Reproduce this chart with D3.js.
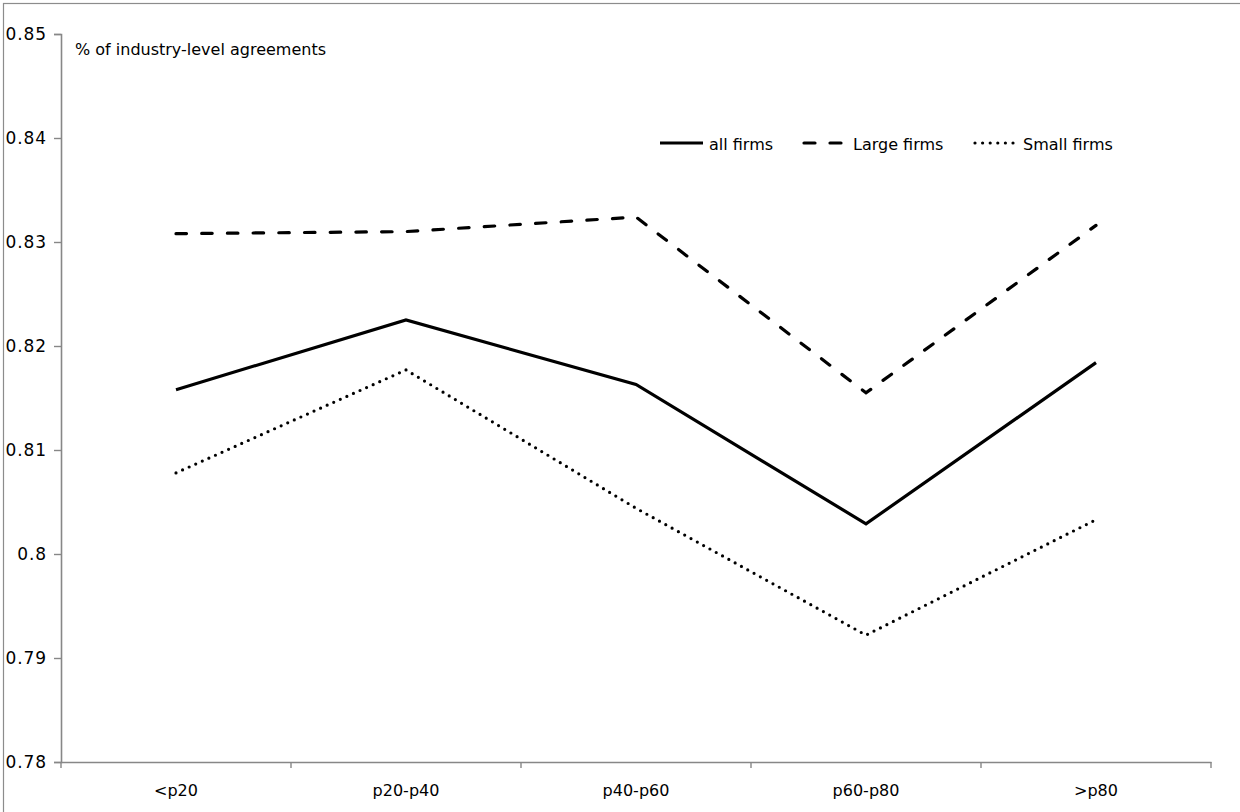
<!DOCTYPE html>
<html>
<head>
<meta charset="utf-8">
<script src="https://cdn.jsdelivr.net/npm/d3@7"></script>
<style>
  html, body { margin: 0; padding: 0; background: #fff; }
  svg { display: block; }
  text { font-family: "DejaVu Sans", sans-serif; fill: #000; }
</style>
</head>
<body>
<svg id="chart" width="1240" height="812"></svg>
<script>
const categories = ["<p20", "p20-p40", "p40-p60", "p60-p80", ">p80"];
const allFirms   = [0.8158, 0.8225, 0.8163, 0.8029, 0.8184];
const largeFirms = [0.8308, 0.8310, 0.8324, 0.8155, 0.8316];
const smallFirms = [0.8078, 0.8177, 0.8044, 0.7922, 0.8033];
const yTicks = [0.78, 0.79, 0.8, 0.81, 0.82, 0.83, 0.84, 0.85];
const yTitle = "% of industry-level agreements";
const seriesNames = ["all firms", "Large firms", "Small firms"];

const svg = d3.select("#chart");

// outer frame (top & left edges visible)
svg.append("rect")
  .attr("x", 3.5).attr("y", 3.5)
  .attr("width", 1300).attr("height", 900)
  .attr("fill", "none").attr("stroke", "#8c8c8c").attr("stroke-width", 1.2);

const x = d3.scaleBand().domain(categories).range([61, 1211]).padding(0);
const y = d3.scaleLinear().domain([0.78, 0.85]).range([762, 34]);

const axisColor = "#878787";

// y axis
const gy = svg.append("g").attr("transform", "translate(61,0)")
  .call(d3.axisLeft(y).tickValues(yTicks).tickSize(7).tickPadding(7)
        .tickFormat(d => d3.format("")(+d.toFixed(2))));
gy.select(".domain").attr("stroke", axisColor).attr("stroke-width", 1.6);
gy.selectAll(".tick line").attr("stroke", axisColor).attr("stroke-width", 1.4);
gy.selectAll(".tick text").attr("font-size", 17).attr("letter-spacing", "0.9px")
  .attr("font-family", "DejaVu Sans").attr("fill", "#000");

// x axis with tick marks at category boundaries
const gx = svg.append("g").attr("transform", "translate(0,762)")
  .call(d3.axisBottom(x).tickSize(0).tickPadding(23));
gx.select(".domain").attr("stroke", axisColor).attr("stroke-width", 1.6);
gx.selectAll(".tick text").attr("font-size", 16).attr("font-family", "DejaVu Sans").attr("fill", "#000");
const boundaries = categories.map(c => x(c)).concat([x(categories[categories.length - 1]) + x.bandwidth()]);
gx.selectAll(".bnd").data(boundaries).enter().append("line")
  .attr("x1", d => d).attr("x2", d => d).attr("y1", 0).attr("y2", 6)
  .attr("stroke", axisColor).attr("stroke-width", 1.4);

// y title inside plot
svg.append("text").attr("x", 75).attr("y", 55)
  .attr("font-size", 16).text(yTitle);

const cx = c => x(c) + x.bandwidth() / 2;
const line = d3.line().x((d, i) => cx(categories[i])).y(d => y(d));

const styles = [
  { data: allFirms,   dash: null,          cap: "butt",  w: 3.2 },
  { data: largeFirms, dash: "10.5,15.2",   cap: "round", w: 3.2 },
  { data: smallFirms, dash: "0,7.2",       cap: "round", w: 3.2 }
];

styles.forEach(s => {
  svg.append("path").datum(s.data)
    .attr("d", line)
    .attr("fill", "none")
    .attr("stroke", "#000")
    .attr("stroke-width", s.w)
    .attr("stroke-linecap", s.cap)
    .attr("stroke-linejoin", "miter")
    .attr("stroke-dasharray", s.dash);
});

// legend
const legendItems = [
  { x1: 660, x2: 703, tx: 709 },
  { x1: 804, x2: 841, tx: 853 },
  { x1: 975, x2: 1013, tx: 1023 }
];
const lg = svg.append("g");
legendItems.forEach((li, i) => {
  const s = styles[i];
  lg.append("line")
    .attr("x1", li.x1).attr("x2", li.x2).attr("y1", 143).attr("y2", 143)
    .attr("stroke", "#000").attr("stroke-width", s.w)
    .attr("stroke-linecap", s.cap)
    .attr("stroke-dasharray", i === 1 ? "11,15" : (i === 2 ? "0,7.6" : null));
  lg.append("text").attr("x", li.tx).attr("y", 149.5)
    .attr("font-size", 16).text(seriesNames[i]);
});
</script>
</body>
</html>
